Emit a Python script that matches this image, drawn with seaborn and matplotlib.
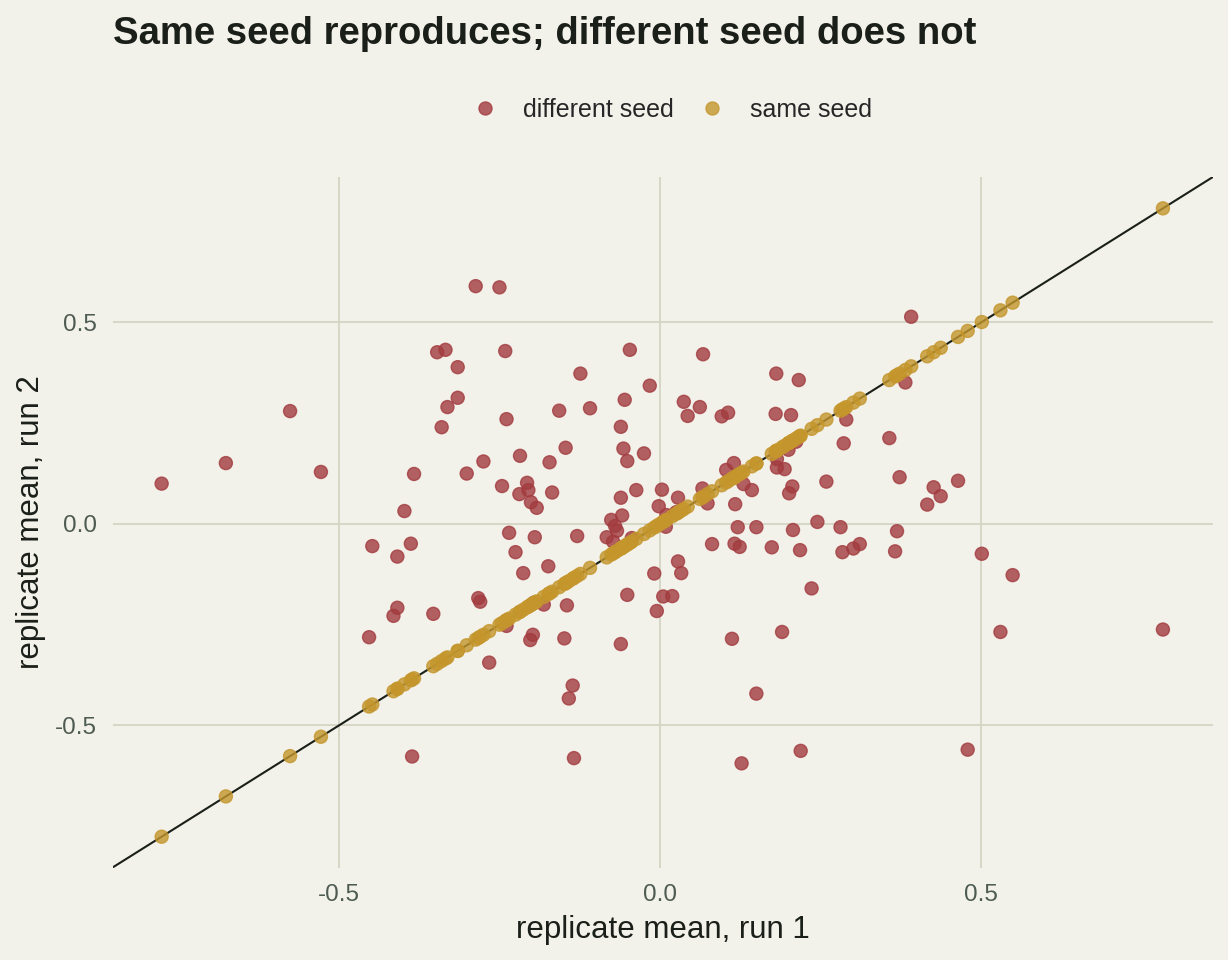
import numpy as np
import pandas as pd
import matplotlib
matplotlib.use("Agg")
import matplotlib.pyplot as plt
import seaborn as sns

# ── data ─────────────────────────────────────────────────────
run1 = [
    -0.776, -0.676, -0.576, -0.528, -0.383, -0.398, -0.388, -0.448, -0.409, -0.409,
    -0.415, -0.453, -0.386, -0.287, -0.250, -0.347, -0.334, -0.241, -0.047, -0.315,
    -0.124, -0.016, -0.315, -0.331, -0.055, -0.239, -0.157, -0.109, -0.340, -0.061,
    -0.147, -0.057, -0.218, -0.025, -0.051, -0.275, -0.172, -0.301, -0.246, -0.207,
    -0.205, -0.219, -0.168, -0.201, -0.192, -0.037, 0.003, -0.061, -0.002, 0.028,
    0.037, -0.059, -0.076, -0.070, -0.067, -0.083, -0.073, -0.044, 0.009, 0.010,
    0.025, -0.235, -0.195, -0.129, -0.225, -0.213, -0.174, -0.009, 0.028, 0.033,
    -0.283, -0.280, -0.353, -0.197, -0.181, -0.145, -0.051, 0.005, 0.019, -0.005,
    -0.239, -0.198, -0.202, -0.149, -0.061, -0.266, -0.136, -0.142, -0.134, 0.391,
    0.067, 0.181, 0.216, 0.062, 0.043, 0.096, 0.106, 0.180, 0.204, 0.382,
    0.290, 0.286, 0.357, 0.200, 0.212, 0.200, 0.182, 0.182, 0.194, 0.115,
    0.103, 0.130, 0.143, 0.066, 0.074, 0.117, 0.206, 0.201, 0.259, 0.373,
    0.426, 0.437, 0.464, 0.416, 0.121, 0.150, 0.207, 0.245, 0.281, 0.369,
    0.081, 0.116, 0.124, 0.174, 0.218, 0.284, 0.301, 0.311, 0.366, 0.501,
    0.236, 0.190, 0.112, 0.150, 0.219, 0.127, 0.479, 0.549, 0.530, 0.783,
]
run2_diff = [
    0.100, 0.151, 0.280, 0.129, 0.124, 0.032, -0.049, -0.055, -0.081, -0.208,
    -0.228, -0.281, -0.577, 0.590, 0.587, 0.426, 0.432, 0.429, 0.432, 0.389,
    0.373, 0.343, 0.313, 0.290, 0.308, 0.260, 0.281, 0.287, 0.240, 0.241,
    0.189, 0.187, 0.169, 0.175, 0.156, 0.155, 0.153, 0.125, 0.094, 0.102,
    0.084, 0.074, 0.078, 0.054, 0.040, 0.084, 0.085, 0.065, 0.044, 0.065,
    0.303, 0.021, 0.010, -0.005, -0.017, -0.033, -0.044, -0.035, -0.007, 0.022,
    0.029, -0.022, -0.033, -0.030, -0.070, -0.122, -0.105, -0.123, -0.093, -0.122,
    -0.184, -0.193, -0.223, -0.196, -0.200, -0.202, -0.176, -0.180, -0.179, -0.216,
    -0.253, -0.275, -0.288, -0.284, -0.298, -0.344, -0.401, -0.433, -0.581, 0.514,
    0.421, 0.373, 0.357, 0.290, 0.268, 0.267, 0.276, 0.273, 0.270, 0.351,
    0.259, 0.200, 0.213, 0.198, 0.204, 0.184, 0.161, 0.140, 0.136, 0.151,
    0.134, 0.099, 0.084, 0.088, 0.051, 0.049, 0.093, 0.076, 0.105, 0.116,
    0.091, 0.069, 0.107, 0.048, -0.008, -0.008, -0.015, 0.005, -0.008, -0.018,
    -0.050, -0.049, -0.057, -0.058, -0.065, -0.070, -0.061, -0.050, -0.068, -0.074,
    -0.160, -0.268, -0.285, -0.421, -0.563, -0.594, -0.560, -0.127, -0.268, -0.262,
]
# same seed -> run 2 reproduces run 1 exactly
run2_same = list(run1)

conditions = ["different seed", "same seed"]
colors = {"different seed": "#A23B3F", "same seed": "#C4962C"}
ticks = [-0.5, 0.0, 0.5]
tick_labels = ["-0.5", "0.0", "0.5"]

df = pd.concat([
    pd.DataFrame({"run1": run1, "run2": run2_diff, "seed": conditions[0]}),
    pd.DataFrame({"run1": run1, "run2": run2_same, "seed": conditions[1]}),
], ignore_index=True)

# ── style ────────────────────────────────────────────────────
BG = "#F2F1EA"
INK = "#1A2019"
sns.set_theme(style="white")
plt.rcParams["font.family"] = ["Liberation Sans", "DejaVu Sans"]
plt.rcParams["axes.unicode_minus"] = False

fig = plt.figure(figsize=(12.28, 9.6), dpi=100, facecolor=BG)
ax = fig.add_axes([0.0924, 0.0961, 0.8954, 0.7192])
ax.set_facecolor(BG)

ax.axline((0, 0), slope=1, color=INK, lw=1.5, zorder=1)

sns.scatterplot(data=df, x="run1", y="run2", hue="seed", hue_order=conditions,
                palette=colors, s=88, alpha=0.8, linewidth=1.0,
                edgecolor="face", ax=ax, zorder=2)

ax.set_xlim(-0.851, 0.861)
ax.set_ylim(-0.853, 0.860)
ax.set_xticks(ticks, tick_labels)
ax.set_yticks(ticks, tick_labels)
ax.grid(True, color="#D4D5C3", lw=1.3, zorder=0)
ax.set_axisbelow(True)
for sp in ax.spines.values():
    sp.set_visible(False)
ax.tick_params(length=0, labelsize=17.5, labelcolor="#4D5B52", pad=12)

ax.set_xlabel("replicate mean, run 1", fontsize=22.5, color=INK, labelpad=6)
ax.set_ylabel("replicate mean, run 2", fontsize=22.5, color=INK, labelpad=6)

sns.move_legend(ax, "center", bbox_to_anchor=(0.508, 1.098), ncol=2,
                title=None, frameon=False, fontsize=18, handlelength=1.0,
                handletextpad=1.0, columnspacing=1.05)

fig.text(0.0924, 1 - 34 / 960, "Same seed reproduces; different seed does not",
         fontsize=27.5, fontweight="bold", color=INK, ha="left", va="center")

fig.savefig("out.png", dpi=100, facecolor=BG)
